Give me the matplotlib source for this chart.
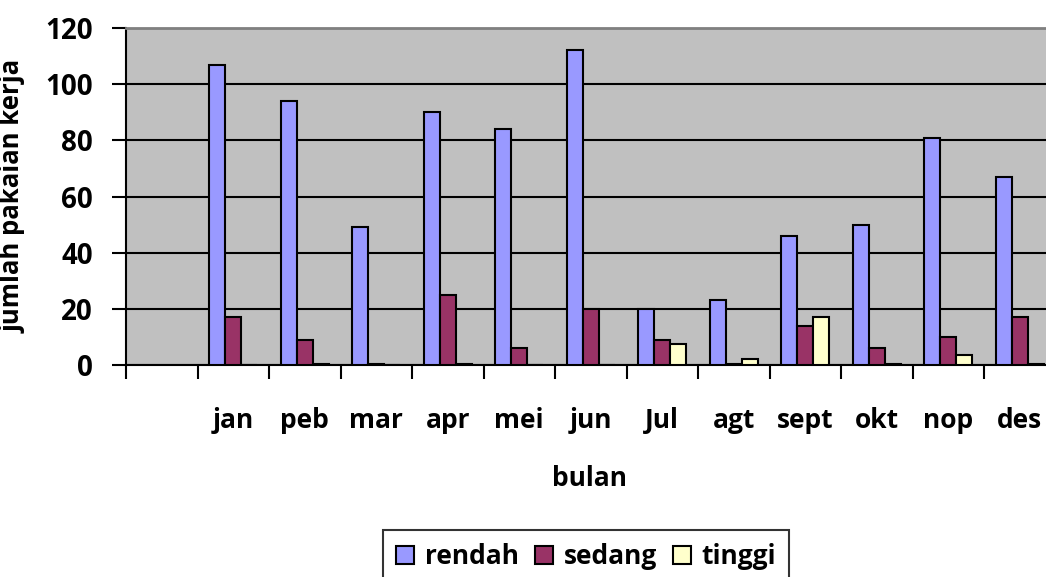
import numpy as np
import matplotlib
matplotlib.use("Agg")
import matplotlib.pyplot as plt

# data (first category is an empty slot)
months = ["", "jan", "peb", "mar", "apr", "mei", "jun", "Jul", "agt", "sept", "okt", "nop", "des"]
rendah = [np.nan, 107, 94, 49, 90, 84, 112, 20, 23, 46, 50, 81, 67]
sedang = [np.nan, 17, 9, 0.5, 25, 6, 20, 9, 0.5, 14, 6, 10, 17]
tinggi = [np.nan, 0, 0.5, 0, 0.5, 0, 0, 7.5, 2, 17, 0.5, 3.5, 0.5]

series = [("rendah", rendah, "#9999FF"),
          ("sedang", sedang, "#993366"),
          ("tinggi", tinggi, "#FFFFCC")]

plt.rcParams["font.family"] = ["Open Sans", "DejaVu Sans"]
plt.rcParams["font.weight"] = "bold"

fig = plt.figure(figsize=(10.46, 5.77), dpi=100)
ax = fig.add_axes([126 / 1046, 212 / 577, 929.5 / 1046, 337 / 577])
ax.set_facecolor("#C0C0C0")

x = np.arange(len(months))
w = 0.224
for i, (name, vals, col) in enumerate(series):
    ax.bar(x + (i - 1) * w, vals, w, color=col, edgecolor="black",
           linewidth=1.5, label=name, zorder=3)

ax.set_xlim(-0.5, len(months) - 0.5)
ax.set_ylim(0, 120)
ax.set_yticks(np.arange(0, 121, 20))
ax.yaxis.grid(True, color="black", linewidth=1.5, zorder=1)
ax.set_axisbelow(True)

# ticks on category borders, labels in the middle
ax.set_xticks(np.arange(-0.5, len(months), 1.0))
ax.set_xticklabels([])
ax.set_xticks(x, minor=True)
ax.set_xticklabels(months, minor=True, fontweight="bold")
ax.tick_params(axis="x", which="major", length=10, width=1.5, direction="out")
ax.tick_params(axis="x", which="minor", length=0, pad=30, labelsize=19)
ax.tick_params(axis="y", length=10, width=1.5, direction="out", pad=14, labelsize=20)
for t in ax.get_yticklabels():
    t.set_fontweight("bold")

for s in ["left", "bottom"]:
    ax.spines[s].set_color("black")
    ax.spines[s].set_linewidth(1.5)
ax.spines["top"].set_color("#808080")
ax.spines["top"].set_linewidth(2)
ax.spines["right"].set_visible(False)

ax.set_ylabel("jumlah pakaian kerja", fontsize=18.5, fontweight="bold", labelpad=13)
fig.text(589 / 1046, 1 - 478 / 577, "bulan", fontsize=19, fontweight="bold",
         ha="center", va="center")

leg = fig.legend(loc="upper center", bbox_to_anchor=(586 / 1046, 1 - 530 / 577),
                 ncol=3, frameon=True, fancybox=False, borderaxespad=0,
                 prop={"size": 19, "weight": "bold"},
                 handlelength=0.7, handleheight=0.7, handletextpad=0.4,
                 columnspacing=0.6, borderpad=0.5)
leg.get_frame().set_edgecolor("black")
leg.get_frame().set_linewidth(1.5)

fig.savefig("out.png", dpi=100)
